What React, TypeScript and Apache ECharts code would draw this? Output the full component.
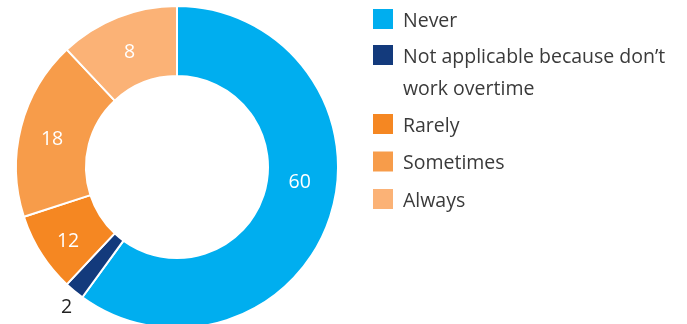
import React, { useEffect, useRef } from "react";
import * as echarts from "echarts";

// Categories in drawing order (clockwise from 12 o'clock)
const categories = [
  "Never",
  "Not applicable because don’t work overtime",
  "Rarely",
  "Sometimes",
  "Always",
];
// Slice sizes as drawn in the picture (share of the ring)
const sliceValues = [60, 2, 8, 18, 12];
// Numbers printed on the slices
const printedLabels = ["60", "2", "12", "18", "8"];
const colors = ["#00aeef", "#133a7c", "#f58722", "#f79c4a", "#fbb276"];

const FONT = "'Open Sans', 'Noto Sans', sans-serif";
const TEXT = "#3a3a3a";

export default function App() {
  const ref = useRef<HTMLDivElement>(null);
  useEffect(() => {
    if (!ref.current) return;
    const chart = echarts.init(ref.current, undefined, { renderer: "svg" });
    const baseLegend = {
      orient: "vertical" as const,
      left: 371,
      padding: 0,
      itemWidth: 22,
      itemHeight: 22,
      icon: "rect",
      itemGap: 13.5,
      selectedMode: false,
      textStyle: {
        fontFamily: FONT,
        fontSize: 19.5,
        color: TEXT,
        lineHeight: 22,
        padding: [0, 0, 0, 4],
      },
    };
    const data = categories.map((name, i) => {
      const item: any = {
        name,
        value: sliceValues[i],
        itemStyle: { color: colors[i] },
      };
      if (i === 1) {
        item.label = {
          position: "outside",
          color: "#222",
          offset: [13, 2],
        };
        item.labelLine = { show: false, length: 16, length2: 0 };
      }
      if (i === 0) {
        item.label = { offset: [0, -26] };
      }
      return item;
    });
    chart.setOption({
      animation: false,
      color: colors,
      legend: [
        { ...baseLegend, top: 7, data: [categories[0]] },
        {
          ...baseLegend,
          top: 7,
          data: [categories[1]],
          formatter: () => "\nNot applicable because don’t\nwork overtime",
          textStyle: {
            ...baseLegend.textStyle,
            lineHeight: 32,
          },
        },
        { ...baseLegend, top: 112, data: categories.slice(2) },
      ],
      series: [
        {
          type: "pie",
          center: [177, 167],
          radius: [91, 161],
          startAngle: 90,
          clockwise: true,
          avoidLabelOverlap: false,
          itemStyle: { borderColor: "#ffffff", borderWidth: 2 },
          label: {
            show: true,
            position: "inside",
            formatter: (p: any) => printedLabels[p.dataIndex],
            color: "#ffffff",
            fontFamily: FONT,
            fontSize: 19.5,
            offset: [0, 3],
          },
          labelLine: { show: false },
          emphasis: { disabled: true },
          data,
        },
      ],
    });
    return () => chart.dispose();
  }, []);
  return (
    <div
      ref={ref}
      style={{ position: "fixed", left: 0, top: 0, width: 687, height: 324 }}
    />
  );
}
